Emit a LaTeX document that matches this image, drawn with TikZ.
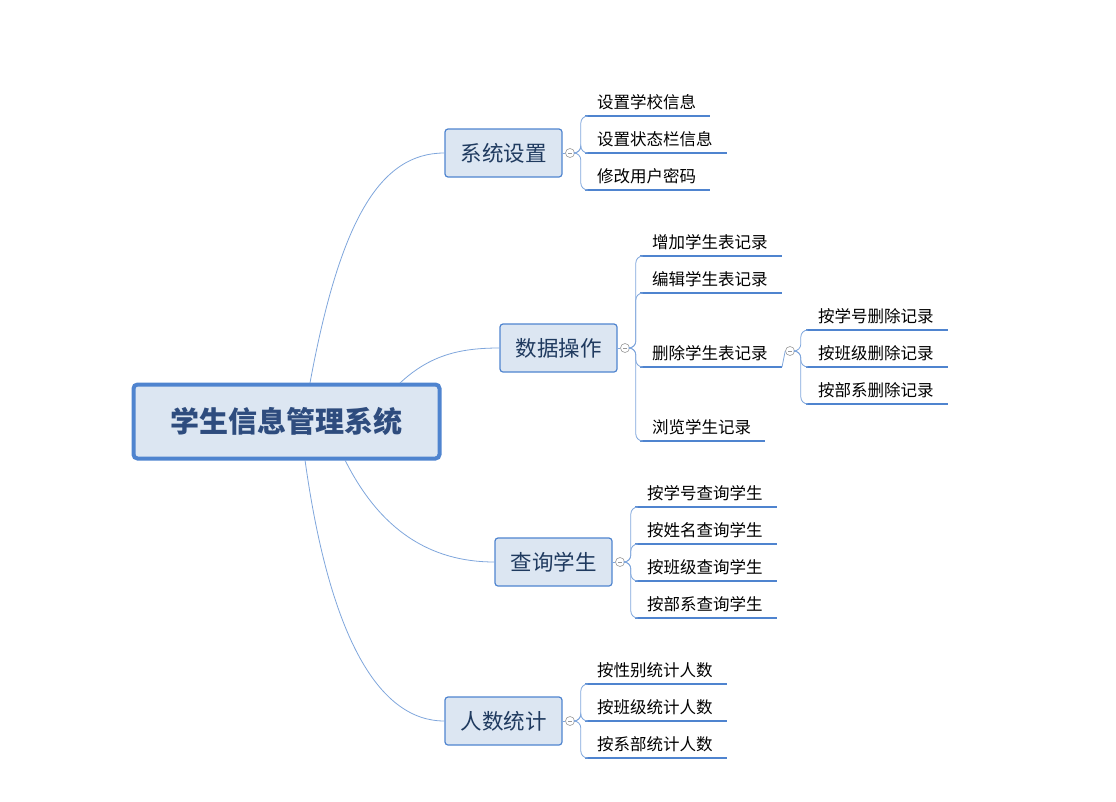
\documentclass[tikz,border=0pt]{standalone}
\usepackage{fontspec}
\setmainfont{Noto Sans CJK SC}
\usetikzlibrary{calc}
\definecolor{bl}{HTML}{4F84CF}
\definecolor{lb}{HTML}{7FA6DC}
\definecolor{fl}{HTML}{DCE6F2}
\definecolor{tx}{HTML}{1F3A5F}
\definecolor{rt}{HTML}{2E4C7E}
\tikzset{
  x=1pt,y=-1pt,
  root/.style={draw=bl,line width=4pt,fill=fl,rounded corners=4pt,minimum width=306pt,minimum height=74pt,font=\fontsize{29}{33}\selectfont\bfseries,text=rt},
  topic/.style={draw=bl,line width=1.2pt,fill=fl,rounded corners=3pt,minimum width=117pt,minimum height=48pt,font=\fontsize{21.5}{25}\selectfont,text=tx},
  leaftext/.style={anchor=south west,inner xsep=12pt,inner ysep=6pt,font=\fontsize{16.5}{19}\selectfont,text=black},
  under/.style={draw=bl,line width=2pt},
  conn/.style={draw=lb,line width=0.8pt},
  fold/.style={circle,draw=gray!80,fill=white,line width=0.6pt,minimum size=9pt,inner sep=0pt,path picture={\draw[gray!80,line width=0.6pt] ($(path picture bounding box.west)+(2.5,0)$) -- ($(path picture bounding box.east)+(-2.5,0)$);}},
}
\newcommand\leafnode[5]{%
  \coordinate (#1s) at (#2,#4);
  \coordinate (#1e) at (#3,#4);
  \node[leaftext] (#1) at (#1s) {#5};
  \draw[under] (#1s) -- (#1e);}
\begin{document}
\begin{tikzpicture}
\useasboundingbox (0,0) rectangle (1116,801);
\node[root] (r) at (286.5,421.5) {学生信息管理系统};
\node[topic] (t1) at (503.5,153) {系统设置};
\node[topic] (t2) at (558.5,348) {数据操作};
\node[topic] (t3) at (553.5,562) {查询学生};
\node[topic] (t4) at (503.5,721) {人数统计};
\coordinate (r1) at (310,383);
\coordinate (r2) at (400,383);
\coordinate (r3) at (345,460);
\coordinate (r4) at (305,460);
\draw[conn] (r1) .. controls (340,220) and (380,153) .. (t1.west);
\draw[conn] (r2) .. controls (430,355) and (460,348) .. (t2.west);
\draw[conn] (r3) .. controls (380,530) and (430,562) .. (t3.west);
\draw[conn] (r4) .. controls (330,640) and (380,721) .. (t4.west);
\node[fold] (c1) at (570,153) {};
\node[fold] (c2) at (625,348) {};
\node[fold] (c3) at (620,562) {};
\node[fold] (c4) at (570,721) {};
\node[fold] (c5) at (790,351) {};
\draw[conn] (t1.east) -- (c1.west);
\draw[conn] (t2.east) -- (c2.west);
\draw[conn] (t3.east) -- (c3.west);
\draw[conn] (t4.east) -- (c4.west);
\leafnode{a1}{585}{710}{116}{设置学校信息}
\leafnode{a2}{585}{727}{153}{设置状态栏信息}
\leafnode{a3}{585}{710}{190}{修改用户密码}
\leafnode{b1}{640}{782}{256}{增加学生表记录}
\leafnode{b2}{640}{782}{293}{编辑学生表记录}
\leafnode{b3}{640}{782}{367}{删除学生表记录}
\leafnode{b4}{640}{765}{441}{浏览学生记录}
\leafnode{d1}{806}{948}{330}{按学号删除记录}
\leafnode{d2}{806}{948}{367}{按班级删除记录}
\leafnode{d3}{806}{948}{404}{按部系删除记录}
\leafnode{e1}{635}{777}{507}{按学号查询学生}
\leafnode{e2}{635}{777}{544}{按姓名查询学生}
\leafnode{e3}{635}{777}{581}{按班级查询学生}
\leafnode{e4}{635}{777}{618}{按部系查询学生}
\leafnode{f1}{585}{727}{684}{按性别统计人数}
\leafnode{f2}{585}{727}{721}{按班级统计人数}
\leafnode{f3}{585}{727}{758}{按系部统计人数}
\foreach \c/\l in {c1/a1,c1/a2,c1/a3,c2/b1,c2/b2,c2/b3,c2/b4,c5/d1,c5/d2,c5/d3,c3/e1,c3/e2,c3/e3,c3/e4,c4/f1,c4/f2,c4/f3}
  \draw[conn,rounded corners=7pt] (\c.east) -- ++(6,0) |- (\l s);
\draw[conn] (b3e) -- (c5.west);
\end{tikzpicture}
\end{document}
